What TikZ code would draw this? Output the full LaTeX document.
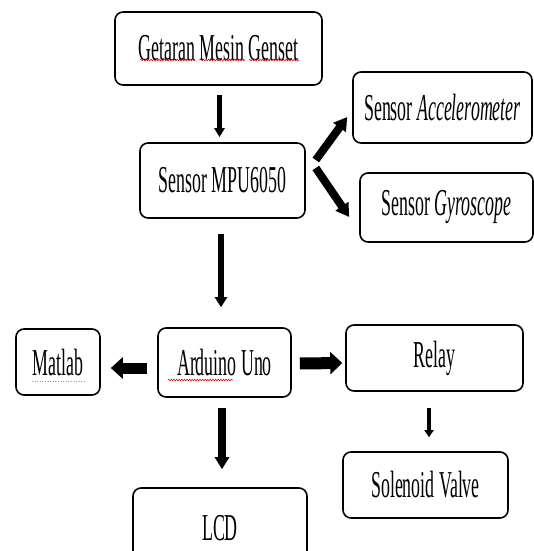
\documentclass[tikz,border=0pt]{standalone}
\usepackage{fontspec}
\setmainfont{Liberation Serif}
\usetikzlibrary{arrows.meta,calc,decorations.pathmorphing}
\newcommand{\cnd}[1]{\scalebox{0.47}[1]{#1}}
\tikzset{
  blk/.style={draw, line width=1.6pt, rounded corners=8pt, inner sep=0pt,
    font=\fontsize{38}{42}\selectfont},
  spell/.style={draw=red, line width=0.6pt, decorate,
    decoration={snake, amplitude=0.8pt, segment length=2.6pt}},
}
\begin{document}
\begin{tikzpicture}[x=1pt,y=-1pt]
\useasboundingbox (0,0) rectangle (534,551);
\clip (0,0) rectangle (534,551);
\fill[white] (0,0) rectangle (534,551);

\node[blk, minimum width=207pt, minimum height=73pt] (g) at (218.5,48.5) {\cnd{Getaran Mesin Genset}};
\node[blk, minimum width=165pt, minimum height=75pt] (mpu) at (222.5,180.5) {\cnd{Sensor MPU6050}};
\node[blk, minimum width=179pt, minimum height=71pt] (acc) at (442.5,107.5) {\cnd{Sensor \textit{Accelerometer}}};
\node[blk, minimum width=173pt, minimum height=69pt] (gyr) at (446.5,207.5) {\cnd{Sensor \textit{Gyroscope}}};
\node[blk, minimum width=84pt, minimum height=66pt] (mat) at (58,362) {\cnd{Matlab}};
\node[blk, minimum width=133pt, minimum height=69pt] (ard) at (224.5,362.5) {\cnd{Arduino Uno}};
\node[blk, minimum width=177pt, minimum height=66pt] (rel) at (434.5,358) {\cnd{Relay}};
\node[blk, minimum width=165pt, minimum height=66pt] (sol) at (425.5,485) {\cnd{Solenoid Valve}};
\node[blk, minimum width=174pt, minimum height=80pt] (lcd) at (220,528) {\cnd{LCD}};

% connectors
\draw[line width=5.5pt, -{Triangle[length=9pt,width=10pt]}]
  ($(g.south)+(1,9)$) -- ($(mpu.north)+(-3,-5)$);
\draw[line width=8pt, -{Triangle[length=13pt,width=15pt]}]
  ($(mpu.east)+(10,-20.5)$) -- ($(acc.west)+(-5,9.5)$);
\draw[line width=8pt, -{Triangle[length=13pt,width=15pt]}]
  ($(mpu.east)+(10,-12.5)$) -- ($(gyr.west)+(-10,9.5)$);
\draw[line width=6pt, -{Triangle[length=10pt,width=12pt]}]
  ($(mpu.south)+(-1.5,15)$) -- ($(ard.north)+(-3.5,-20)$);
\draw[line width=11pt, -{Triangle[length=12pt,width=21pt]}]
  ($(ard.west)+(-10,5.5)$) -- ($(mat.east)+(10,6)$);
\draw[line width=12pt, -{Triangle[length=12pt,width=22pt]}]
  ($(ard.east)+(8,1)$) -- ($(rel.west)+(-3,5)$);
\draw[line width=8pt, -{Triangle[length=12pt,width=14pt]}]
  ($(ard.south)+(-2.5,10)$) -- ($(lcd.north)+(2,-18)$);
\draw[line width=4.5pt, -{Triangle[length=7pt,width=9pt]}]
  ($(rel.south)+(-5.5,16)$) -- ($(sol.north)+(3.5,-14)$);

% spell-check underlines
\draw[spell] (140,60) -- (195,60);
\draw[spell] (200,60) -- (245,60);
\draw[spell] (249,60) -- (299,60);
\draw[spell] (168,380) -- (233,380);
\draw[red!60, line width=0.6pt, dotted] (32,381) -- (85,381);
\end{tikzpicture}
\end{document}
